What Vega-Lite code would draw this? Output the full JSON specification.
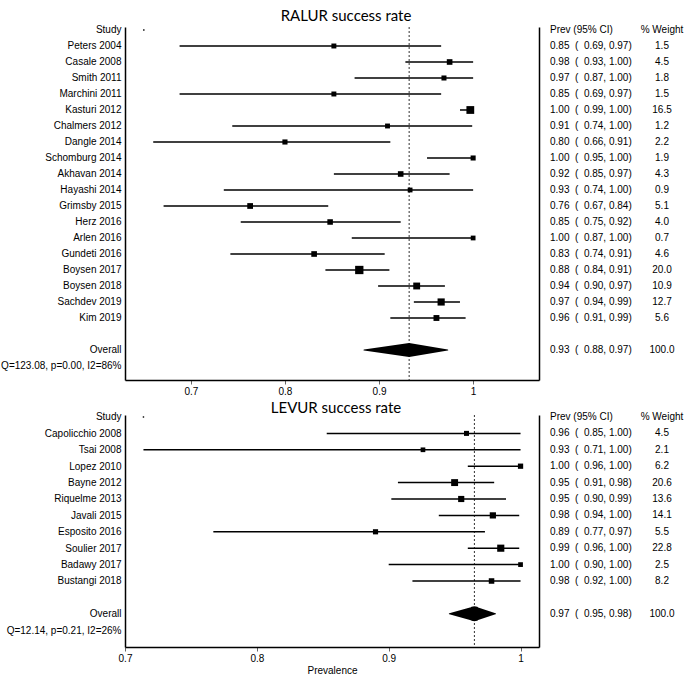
{
  "$schema": "https://vega.github.io/schema/vega-lite/v6.json",
  "autosize": {"type": "pad"},
  "padding": {"left": 0, "top": 8, "right": 0, "bottom": 0},
  "background": "white",
  "config": {
    "view": {"stroke": null},
    "font": "Liberation Sans"
  },
  "datasets": {
    "ralur": [
      {"study": "Study", "kind": "header", "est": 0.65, "ci": "Prev (95% CI)", "wt": "% Weight"},
      {"study": "Peters 2004", "kind": "study", "est": 0.852, "lo": 0.688, "hi": 0.966, "w": 1.5, "ci": "0.85\u00a0\u00a0(\u00a0\u00a00.69,\u00a00.97)", "wt": "1.5"},
      {"study": "Casale 2008", "kind": "study", "est": 0.975, "lo": 0.928, "hi": 1.0, "w": 4.5, "ci": "0.98\u00a0\u00a0(\u00a0\u00a00.93,\u00a01.00)", "wt": "4.5"},
      {"study": "Smith 2011", "kind": "study", "est": 0.969, "lo": 0.874, "hi": 1.0, "w": 1.8, "ci": "0.97\u00a0\u00a0(\u00a0\u00a00.87,\u00a01.00)", "wt": "1.8"},
      {"study": "Marchini 2011", "kind": "study", "est": 0.852, "lo": 0.688, "hi": 0.966, "w": 1.5, "ci": "0.85\u00a0\u00a0(\u00a0\u00a00.69,\u00a00.97)", "wt": "1.5"},
      {"study": "Kasturi 2012", "kind": "study", "est": 0.997, "lo": 0.986, "hi": 1.0, "w": 16.5, "ci": "1.00\u00a0\u00a0(\u00a0\u00a00.99,\u00a01.00)", "wt": "16.5"},
      {"study": "Chalmers 2012", "kind": "study", "est": 0.909, "lo": 0.744, "hi": 0.999, "w": 1.2, "ci": "0.91\u00a0\u00a0(\u00a0\u00a00.74,\u00a01.00)", "wt": "1.2"},
      {"study": "Dangle 2014", "kind": "study", "est": 0.8, "lo": 0.66, "hi": 0.912, "w": 2.2, "ci": "0.80\u00a0\u00a0(\u00a0\u00a00.66,\u00a00.91)", "wt": "2.2"},
      {"study": "Schomburg 2014", "kind": "study", "est": 1.0, "lo": 0.951, "hi": 1.0, "w": 1.9, "ci": "1.00\u00a0\u00a0(\u00a0\u00a00.95,\u00a01.00)", "wt": "1.9"},
      {"study": "Akhavan 2014", "kind": "study", "est": 0.923, "lo": 0.852, "hi": 0.975, "w": 4.3, "ci": "0.92\u00a0\u00a0(\u00a0\u00a00.85,\u00a00.97)", "wt": "4.3"},
      {"study": "Hayashi 2014", "kind": "study", "est": 0.933, "lo": 0.735, "hi": 1.0, "w": 0.9, "ci": "0.93\u00a0\u00a0(\u00a0\u00a00.74,\u00a01.00)", "wt": "0.9"},
      {"study": "Grimsby 2015", "kind": "study", "est": 0.763, "lo": 0.671, "hi": 0.846, "w": 5.1, "ci": "0.76\u00a0\u00a0(\u00a0\u00a00.67,\u00a00.84)", "wt": "5.1"},
      {"study": "Herz 2016", "kind": "study", "est": 0.848, "lo": 0.753, "hi": 0.923, "w": 4.0, "ci": "0.85\u00a0\u00a0(\u00a0\u00a00.75,\u00a00.92)", "wt": "4.0"},
      {"study": "Arlen 2016", "kind": "study", "est": 1.0, "lo": 0.871, "hi": 1.0, "w": 0.7, "ci": "1.00\u00a0\u00a0(\u00a0\u00a00.87,\u00a01.00)", "wt": "0.7"},
      {"study": "Gundeti 2016", "kind": "study", "est": 0.831, "lo": 0.742, "hi": 0.906, "w": 4.6, "ci": "0.83\u00a0\u00a0(\u00a0\u00a00.74,\u00a00.91)", "wt": "4.6"},
      {"study": "Boysen 2017", "kind": "study", "est": 0.879, "lo": 0.843, "hi": 0.911, "w": 20.0, "ci": "0.88\u00a0\u00a0(\u00a0\u00a00.84,\u00a00.91)", "wt": "20.0"},
      {"study": "Boysen 2018", "kind": "study", "est": 0.94, "lo": 0.899, "hi": 0.97, "w": 10.9, "ci": "0.94\u00a0\u00a0(\u00a0\u00a00.90,\u00a00.97)", "wt": "10.9"},
      {"study": "Sachdev 2019", "kind": "study", "est": 0.966, "lo": 0.937, "hi": 0.986, "w": 12.7, "ci": "0.97\u00a0\u00a0(\u00a0\u00a00.94,\u00a00.99)", "wt": "12.7"},
      {"study": "Kim 2019", "kind": "study", "est": 0.961, "lo": 0.912, "hi": 0.992, "w": 5.6, "ci": "0.96\u00a0\u00a0(\u00a0\u00a00.91,\u00a00.99)", "wt": "5.6"},
      {"study": "Overall", "kind": "overall", "est": 0.932, "lo": 0.884, "hi": 0.973, "w": 100.0, "ci": "0.93\u00a0\u00a0(\u00a0\u00a00.88,\u00a00.97)", "wt": "100.0"}
    ],
    "levur": [
      {"study": "Study", "kind": "header", "est": 0.714, "ci": "Prev (95% CI)", "wt": "% Weight"},
      {"study": "Capolicchio 2008", "kind": "study", "est": 0.959, "lo": 0.853, "hi": 1.0, "w": 4.5, "ci": "0.96\u00a0\u00a0(\u00a0\u00a00.85,\u00a01.00)", "wt": "4.5"},
      {"study": "Tsai 2008", "kind": "study", "est": 0.926, "lo": 0.714, "hi": 1.0, "w": 2.1, "ci": "0.93\u00a0\u00a0(\u00a0\u00a00.71,\u00a01.00)", "wt": "2.1"},
      {"study": "Lopez 2010", "kind": "study", "est": 1.0, "lo": 0.96, "hi": 1.0, "w": 6.2, "ci": "1.00\u00a0\u00a0(\u00a0\u00a00.96,\u00a01.00)", "wt": "6.2"},
      {"study": "Bayne 2012", "kind": "study", "est": 0.95, "lo": 0.907, "hi": 0.98, "w": 20.6, "ci": "0.95\u00a0\u00a0(\u00a0\u00a00.91,\u00a00.98)", "wt": "20.6"},
      {"study": "Riquelme 2013", "kind": "study", "est": 0.955, "lo": 0.902, "hi": 0.989, "w": 13.6, "ci": "0.95\u00a0\u00a0(\u00a0\u00a00.90,\u00a00.99)", "wt": "13.6"},
      {"study": "Javali 2015", "kind": "study", "est": 0.979, "lo": 0.938, "hi": 0.999, "w": 14.1, "ci": "0.98\u00a0\u00a0(\u00a0\u00a00.94,\u00a01.00)", "wt": "14.1"},
      {"study": "Esposito 2016", "kind": "study", "est": 0.89, "lo": 0.767, "hi": 0.973, "w": 5.5, "ci": "0.89\u00a0\u00a0(\u00a0\u00a00.77,\u00a00.97)", "wt": "5.5"},
      {"study": "Soulier 2017", "kind": "study", "est": 0.985, "lo": 0.96, "hi": 0.999, "w": 22.8, "ci": "0.99\u00a0\u00a0(\u00a0\u00a00.96,\u00a01.00)", "wt": "22.8"},
      {"study": "Badawy 2017", "kind": "study", "est": 1.0, "lo": 0.9, "hi": 1.0, "w": 2.5, "ci": "1.00\u00a0\u00a0(\u00a0\u00a00.90,\u00a01.00)", "wt": "2.5"},
      {"study": "Bustangi 2018", "kind": "study", "est": 0.978, "lo": 0.918, "hi": 1.0, "w": 8.2, "ci": "0.98\u00a0\u00a0(\u00a0\u00a00.92,\u00a01.00)", "wt": "8.2"},
      {"study": "Overall", "kind": "overall", "est": 0.965, "lo": 0.946, "hi": 0.981, "w": 100.0, "ci": "0.97\u00a0\u00a0(\u00a0\u00a00.95,\u00a00.98)", "wt": "100.0"}
    ]
  },
  "columns": 2,
  "spacing": {"row": 35, "column": 0},
  "bounds": "flush",
  "align": "each",
  "resolve": {"scale": {"x": "independent", "y": "independent", "size": "independent"}},
  "concat": [
    {
      "width": 414,
      "height": 353,
      "data": {"name": "ralur"},
      "title": {"text": "RALUR success rate", "frame": "group", "anchor": "middle", "dx": 14, "offset": 1, "font": "Lato", "fontSize": 15, "fontWeight": "normal", "color": "black"},
      "layer": [
        {
          "transform": [{"filter": "datum.kind == 'overall'"}],
          "mark": {"type": "rule", "strokeDash": [2, 2], "color": "#333333", "strokeWidth": 1},
          "encoding": {
            "x": {"field": "est", "type": "quantitative", "scale": {"domain": [0.63, 1.07], "nice": false, "zero": false},
              "axis": {"title": null, "values": [0.7, 0.8, 0.9, 1], "format": "~g", "labelFlush": false, "labelFont": "Liberation Sans", "labelFontSize": 10, "labelColor": "black", "tickSize": 4, "tickColor": "#666666", "domainColor": "black", "domainWidth": 1.5, "grid": false, "labelPadding": 2}}
          }
        },
        {
          "transform": [{"filter": "datum.kind == 'study'"}],
          "mark": {"type": "rule", "color": "black", "strokeWidth": 1.5},
          "encoding": {
            "x": {"field": "lo", "type": "quantitative"},
            "x2": {"field": "hi"},
            "y": {"field": "study", "type": "nominal",
              "scale": {"type": "point", "domain": ["Study", "Peters 2004", "Casale 2008", "Smith 2011", "Marchini 2011", "Kasturi 2012", "Chalmers 2012", "Dangle 2014", "Schomburg 2014", "Akhavan 2014", "Hayashi 2014", "Grimsby 2015", "Herz 2016", "Arlen 2016", "Gundeti 2016", "Boysen 2017", "Boysen 2018", "Sachdev 2019", "Kim 2019", " ", "Overall", "Q=123.08, p=0.00, I2=86%"], "padding": 0.53125, "align": 0.176},
              "axis": {"title": null, "ticks": false, "labelPadding": 4, "labelFont": "Liberation Sans", "labelFontSize": 10, "labelColor": "black", "labelOverlap": false, "labelBound": false, "domainColor": "black", "domainWidth": 1.5, "grid": false}}
          }
        },
        {
          "transform": [{"filter": "datum.kind == 'study'"}],
          "mark": {"type": "point", "shape": "square", "filled": true, "color": "black", "opacity": 1},
          "encoding": {
            "x": {"field": "est", "type": "quantitative"},
            "y": {"field": "study", "type": "nominal"},
            "size": {"field": "w", "type": "quantitative", "scale": {"domain": [0, 20], "range": [21, 69], "zero": false}, "legend": null}
          }
        },
        {
          "transform": [{"filter": "datum.kind == 'header'"}],
          "mark": {"type": "point", "shape": "square", "filled": true, "color": "black", "opacity": 1, "size": 2},
          "encoding": {
            "x": {"field": "est", "type": "quantitative"},
            "y": {"field": "study", "type": "nominal"}
          }
        },
        {
          "transform": [{"filter": "datum.kind == 'overall'"}, {"fold": ["lo", "est", "hi"], "as": ["part", "value"]}],
          "mark": {"type": "trail", "color": "black"},
          "encoding": {
            "x": {"field": "value", "type": "quantitative"},
            "y": {"field": "study", "type": "nominal"},
            "size": {"field": "part", "type": "ordinal", "scale": {"type": "ordinal", "domain": ["lo", "est", "hi"], "range": [0, 14, 0]}, "legend": null}
          }
        }
      ],
      "resolve": {"scale": {"size": "independent"}}
    },
    {
      "width": 147,
      "height": 353,
      "data": {"name": "ralur"},
      "layer": [
        {
          "mark": {"type": "text", "align": "left", "font": "Liberation Sans", "fontSize": 10, "color": "black"},
          "encoding": {
            "x": {"datum": "ci", "type": "nominal", "scale": {"type": "point", "domain": ["ci", "wt"], "padding": 0.15625, "align": 0.314}, "axis": null},
            "y": {"field": "study", "type": "nominal",
              "scale": {"type": "point", "domain": ["Study", "Peters 2004", "Casale 2008", "Smith 2011", "Marchini 2011", "Kasturi 2012", "Chalmers 2012", "Dangle 2014", "Schomburg 2014", "Akhavan 2014", "Hayashi 2014", "Grimsby 2015", "Herz 2016", "Arlen 2016", "Gundeti 2016", "Boysen 2017", "Boysen 2018", "Sachdev 2019", "Kim 2019", " ", "Overall", "Q=123.08, p=0.00, I2=86%"], "padding": 0.53125, "align": 0.176},
              "axis": {"title": null, "labels": false, "ticks": false, "domain": true, "domainColor": "black", "domainWidth": 1.5, "grid": false}},
            "text": {"field": "ci"}
          }
        },
        {
          "mark": {"type": "text", "align": "center", "font": "Liberation Sans", "fontSize": 10, "color": "black"},
          "encoding": {
            "x": {"datum": "wt", "type": "nominal"},
            "y": {"field": "study", "type": "nominal"},
            "text": {"field": "wt"}
          }
        }
      ]
    },
    {
      "width": 414,
      "height": 232,
      "data": {"name": "levur"},
      "title": {"text": "LEVUR success rate", "frame": "group", "anchor": "middle", "dx": 4, "offset": -4, "font": "Lato", "fontSize": 15, "fontWeight": "normal", "color": "black"},
      "layer": [
        {
          "transform": [{"filter": "datum.kind == 'overall'"}],
          "mark": {"type": "rule", "strokeDash": [2, 2], "color": "#333333", "strokeWidth": 1},
          "encoding": {
            "x": {"field": "est", "type": "quantitative", "scale": {"domain": [0.7, 1.014], "nice": false, "zero": false},
              "axis": {"title": "Prevalence", "titleFont": "Liberation Sans", "titleFontSize": 10, "titleFontWeight": "normal", "titleColor": "black", "titlePadding": 2, "values": [0.7, 0.8, 0.9, 1], "format": "~g", "labelFlush": false, "labelFont": "Liberation Sans", "labelFontSize": 10, "labelColor": "black", "tickSize": 4, "tickColor": "#666666", "domainColor": "black", "domainWidth": 1.5, "grid": false, "labelPadding": 2}}
          }
        },
        {
          "transform": [{"filter": "datum.kind == 'study'"}],
          "mark": {"type": "rule", "color": "black", "strokeWidth": 1.5},
          "encoding": {
            "x": {"field": "lo", "type": "quantitative"},
            "x2": {"field": "hi"},
            "y": {"field": "study", "type": "nominal",
              "scale": {"type": "point", "domain": ["Study", "Capolicchio 2008", "Tsai 2008", "Lopez 2010", "Bayne 2012", "Riquelme 2013", "Javali 2015", "Esposito 2016", "Soulier 2017", "Badawy 2017", "Bustangi 2018", " ", "Overall", "Q=12.14, p=0.21, I2=26%"], "padding": 0.573, "align": 0.106},
              "axis": {"title": null, "ticks": false, "labelPadding": 4, "labelFont": "Liberation Sans", "labelFontSize": 10, "labelColor": "black", "labelOverlap": false, "labelBound": false, "domainColor": "black", "domainWidth": 1.5, "grid": false}}
          }
        },
        {
          "transform": [{"filter": "datum.kind == 'study'"}],
          "mark": {"type": "point", "shape": "square", "filled": true, "color": "black", "opacity": 1},
          "encoding": {
            "x": {"field": "est", "type": "quantitative"},
            "y": {"field": "study", "type": "nominal"},
            "size": {"field": "w", "type": "quantitative", "scale": {"domain": [0, 20], "range": [19, 47], "zero": false}, "legend": null}
          }
        },
        {
          "transform": [{"filter": "datum.kind == 'header'"}],
          "mark": {"type": "point", "shape": "square", "filled": true, "color": "black", "opacity": 1, "size": 2},
          "encoding": {
            "x": {"field": "est", "type": "quantitative"},
            "y": {"field": "study", "type": "nominal"}
          }
        },
        {
          "transform": [{"filter": "datum.kind == 'overall'"}, {"fold": ["lo", "est", "hi"], "as": ["part", "value"]}],
          "mark": {"type": "trail", "color": "black"},
          "encoding": {
            "x": {"field": "value", "type": "quantitative"},
            "y": {"field": "study", "type": "nominal"},
            "size": {"field": "part", "type": "ordinal", "scale": {"type": "ordinal", "domain": ["lo", "est", "hi"], "range": [0, 15, 0]}, "legend": null}
          }
        }
      ],
      "resolve": {"scale": {"size": "independent"}}
    },
    {
      "width": 147,
      "height": 232,
      "data": {"name": "levur"},
      "layer": [
        {
          "mark": {"type": "text", "align": "left", "font": "Liberation Sans", "fontSize": 10, "color": "black"},
          "encoding": {
            "x": {"datum": "ci", "type": "nominal", "scale": {"type": "point", "domain": ["ci", "wt"], "padding": 0.15625, "align": 0.314}, "axis": null},
            "y": {"field": "study", "type": "nominal",
              "scale": {"type": "point", "domain": ["Study", "Capolicchio 2008", "Tsai 2008", "Lopez 2010", "Bayne 2012", "Riquelme 2013", "Javali 2015", "Esposito 2016", "Soulier 2017", "Badawy 2017", "Bustangi 2018", " ", "Overall", "Q=12.14, p=0.21, I2=26%"], "padding": 0.573, "align": 0.106},
              "axis": {"title": null, "labels": false, "ticks": false, "domain": true, "domainColor": "black", "domainWidth": 1.5, "grid": false}},
            "text": {"field": "ci"}
          }
        },
        {
          "mark": {"type": "text", "align": "center", "font": "Liberation Sans", "fontSize": 10, "color": "black"},
          "encoding": {
            "x": {"datum": "wt", "type": "nominal"},
            "y": {"field": "study", "type": "nominal"},
            "text": {"field": "wt"}
          }
        }
      ]
    }
  ]
}
